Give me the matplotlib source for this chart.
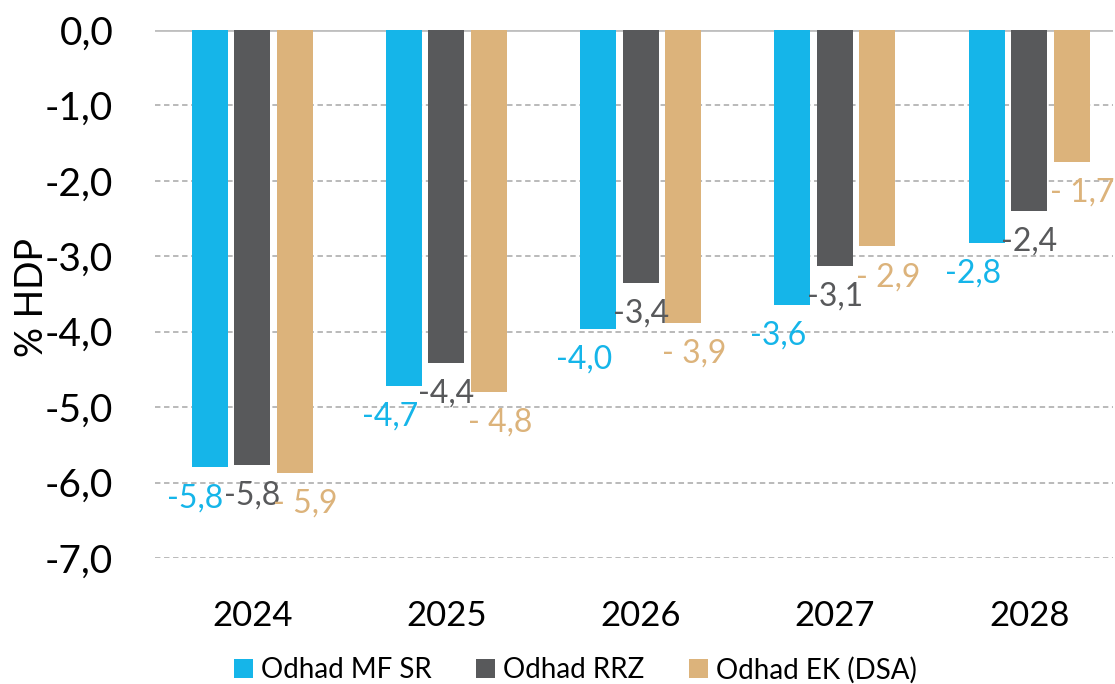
import matplotlib.pyplot as plt
import numpy as np

years = ['2024', '2025', '2026', '2027', '2028']
series_names = ['Odhad MF SR', 'Odhad RRZ', 'Odhad EK (DSA)']
mf_sr = [-5.80, -4.72, -3.97, -3.64, -2.83]
rrz = [-5.77, -4.42, -3.35, -3.13, -2.40]
ek_dsa = [-5.87, -4.80, -3.88, -2.87, -1.75]
mf_sr_labels = ['-5,8', '-4,7', '-4,0', '-3,6', '-2,8']
rrz_labels = ['-5,8', '-4,4', '-3,4', '-3,1', '-2,4']
ek_dsa_labels = ['- 5,9', '- 4,8', '- 3,9', '- 2,9', '- 1,7']

colors = ['#15B5E9', '#58595B', '#DCB37B']

plt.rcParams['font.family'] = ['Lato', 'DejaVu Sans']

fig = plt.figure(figsize=(11.15, 6.84), dpi=100)
ax = fig.add_axes([155 / 1115, 1 - 558 / 684, (1113 - 155) / 1115, (558 - 30) / 684])

x = np.arange(len(years))
width = 0.185
step = 0.219
values = [mf_sr, rrz, ek_dsa]
labels = [mf_sr_labels, rrz_labels, ek_dsa_labels]
label_dx = [-14, 0, 11]  # px shift of value labels per series

for i, (vals, labs, col) in enumerate(zip(values, labels, colors)):
    pos = x + (i - 1) * step
    ax.bar(pos, vals, width, color=col, label=series_names[i], zorder=3)
    for px, v, t in zip(pos, vals, labs):
        ax.annotate(t, (px, v), xytext=(label_dx[i] * 0.72, -22),
                    textcoords='offset points', ha='center', va='center',
                    fontsize=23, color=col, zorder=4)

ax.set_ylim(-7, 0)
ax.set_xlim(-0.5, -0.5 + 958 / 194.25)
ax.set_yticks(np.arange(-7, 0.5, 1))
ax.set_yticklabels([f'{v:.1f}'.replace('.', ',') for v in np.arange(-7, 0.5, 1)])
ax.set_xticks(x)
ax.set_xticklabels(years)
ax.tick_params(axis='y', labelsize=28, length=0, pad=30)
ax.tick_params(axis='x', labelsize=25, length=0, pad=30)

for spine in ax.spines.values():
    spine.set_visible(False)
ax.yaxis.grid(True, linestyle=(0, (3, 2)), color='#B4B4B4', linewidth=1.3, zorder=0)
ax.axhline(0, color='#BFBFBF', linewidth=2, zorder=2)

ax.set_ylabel('% HDP', fontsize=27)
ax.yaxis.set_label_coords(-0.11, 0.494)

fig.legend(loc='center', bbox_to_anchor=(0.516, 1 - 670 / 684), ncol=3, frameon=False,
           fontsize=20, handlelength=0.68, handleheight=0.68, handletextpad=0.3,
           columnspacing=1.6)

fig.savefig('out.png', dpi=100)
